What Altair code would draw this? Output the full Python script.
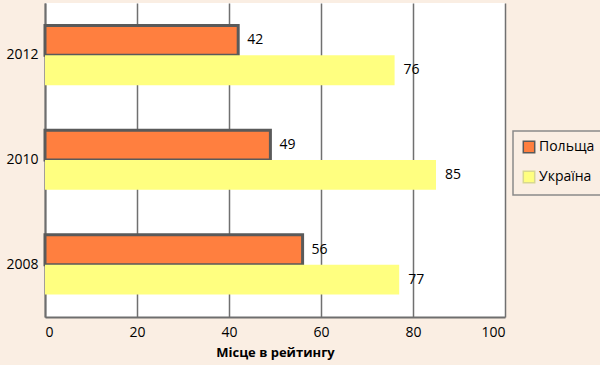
import altair as alt
import pandas as pd

years = ["2012", "2010", "2008"]
countries = ["Польща", "Україна"]
poland = [42, 49, 56]
ukraine = [76, 85, 77]

rows = []
for i, y in enumerate(years):
    rows.append({"year": y, "country": countries[0], "value": poland[i]})
    rows.append({"year": y, "country": countries[1], "value": ukraine[i]})
df = pd.DataFrame(rows)

FONT = "Open Sans"

y_enc = alt.Y("year:N", sort=years, title=None,
              scale=alt.Scale(paddingInner=0.43, paddingOuter=0.215),
              axis=alt.Axis(labelFontSize=14, labelFont=FONT, labelColor="#000000",
                            ticks=False, labelPadding=7, domainColor="#6e6e6e",
                            domainWidth=2, grid=False))
yoff = alt.YOffset("country:N", sort=countries, scale=alt.Scale(paddingInner=0, paddingOuter=0))

bars = alt.Chart(df).mark_bar(strokeWidth=3).encode(
    x=alt.X("value:Q", title="Місце в рейтингу",
            scale=alt.Scale(domain=[0, 100], nice=False),
            axis=alt.Axis(values=[0, 20, 40, 60, 80, 100], labelFontSize=14, labelFont=FONT,
                          labelColor="#000000", titleFont=FONT, titleFontSize=13,
                          titleFontWeight="bold", titleColor="#000000", titlePadding=7,
                          gridColor="#707070", gridWidth=1.5, domainColor="#6e6e6e",
                          domainWidth=2, ticks=False, labelPadding=8)),
    y=y_enc,
    yOffset=yoff,
    fill=alt.Fill("country:N", sort=countries, title=None,
                  scale=alt.Scale(domain=countries, range=["#FF7F3F", "#FFFF80"])),
    stroke=alt.Stroke("country:N", sort=countries, title=None,
                      scale=alt.Scale(domain=countries, range=["#5a5a5a", "#d8d890"])),
    strokeOpacity=alt.StrokeOpacity("country:N", sort=countries, title=None,
                                    scale=alt.Scale(domain=countries, range=[1, 0]),
                                    legend=None),
)

labels = alt.Chart(df).mark_text(align="left", baseline="middle", dx=9, fontSize=14,
                                 font=FONT, color="#000000").encode(
    x=alt.X("value:Q"),
    y=alt.Y("year:N", sort=years),
    yOffset=alt.YOffset("country:N", sort=countries),
    text=alt.Text("value:Q"),
)

chart = (bars + labels).properties(
    width=460, height=314,
    background="#FAEEE3",
    padding={"left": 45, "top": 3, "right": 95, "bottom": 48},
    autosize=alt.AutoSizeParams(type="none"),
).configure_view(fill="#FFFFFF", stroke=None).configure_legend(
    orient="none", legendX=468, legendY=128, strokeColor="#8a8a8a", strokeWidth=1.5,
    padding=9, symbolType="square", symbolSize=130, symbolStrokeWidth=1.5,
    labelFontSize=14, labelFont=FONT, labelColor="#000000", rowPadding=12,
    symbolOpacity=1, labelOffset=3,
)

chart.save("out.html", embed_options={"renderer": "svg", "actions": False})
